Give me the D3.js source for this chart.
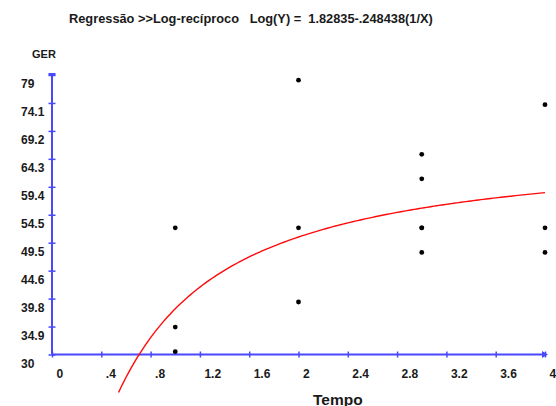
<!DOCTYPE html>
<html>
<head>
<meta charset="utf-8">
<script src="https://cdn.jsdelivr.net/npm/d3@7"></script>
<style>
  body { margin: 0; background: #fff; }
  svg text { font-family: "Liberation Sans", Arial, sans-serif; font-weight: bold; fill: #1a1a1a; }
</style>
</head>
<body>
<div id="chart"></div>
<script>
// observed points (Tempo, GER)
var tempo = [1, 1, 1, 2, 2, 2, 3, 3, 3, 3, 3, 4, 4, 4];
var ger   = [52.2, 34.8, 30.5, 78.1, 52.2, 39.2, 65.1, 60.8, 52.2, 52.2, 47.9, 73.8, 52.2, 47.9];

// tick labels as printed
var xTicks = [0, 0.4, 0.8, 1.2, 1.6, 2, 2.4, 2.8, 3.2, 3.6, 4];
var xTickLabels = ["0", ".4", ".8", "1.2", "1.6", "2", "2.4", "2.8", "3.2", "3.6", "4"];
var yTicks = [30, 34.9, 39.8, 44.7, 49.6, 54.5, 59.4, 64.3, 69.2, 74.1, 79];
var yTickLabels = ["30", "34.9", "39.8", "44.6", "49.5", "54.5", "59.4", "64.3", "69.2", "74.1", "79"];

// regression Log(Y) = a - b(1/X), from the title
var coefA = 1.82835;
var coefB = 0.248438;
var curveStart = 0.54;

var svgWidth = 556, svgHeight = 406;
var axisColor = "#4848ff";

var svg = d3.select("#chart").append("svg")
    .attr("width", svgWidth)
    .attr("height", svgHeight);

var xScale = d3.scaleLinear().domain([0, 4]).range([52, 545]);
var yScale = d3.scaleLinear().domain([30, 79]).range([354.5, 75]);

// title
svg.append("text")
    .attr("x", 69)
    .attr("y", 22.8)
    .attr("font-size", 12.8)
    .style("white-space", "pre")
    .text("Regressão >>Log-recíproco   Log(Y) =  1.82835-.248438(1/X)");

svg.append("text")
    .attr("x", 32)
    .attr("y", 58)
    .attr("font-size", 11)
    .text("GER");

svg.append("text")
    .attr("x", 313)
    .attr("y", 404.5)
    .attr("font-size", 15.5)
    .text("Tempo");

// axes
var bottomAxis = d3.axisBottom(xScale)
    .tickValues(xTicks)
    .tickFormat((d, i) => xTickLabels[i]);

var xAxis = svg.append("g")
    .attr("transform", `translate(0, ${yScale(30)})`)
    .call(bottomAxis);

xAxis.select(".domain").remove();
xAxis.append("line")
    .attr("x1", xScale(0)).attr("x2", xScale(4) + 1)
    .attr("stroke", axisColor).attr("stroke-width", 2);
xAxis.selectAll(".tick line")
    .attr("y1", -3).attr("y2", 3)
    .attr("stroke", axisColor).attr("stroke-width", 1.5);
xAxis.selectAll(".tick text")
    .attr("text-anchor", "start")
    .attr("x", 4).attr("y", 23).attr("dy", 0)
    .attr("font-size", 12)
    .attr("font-family", null);
xAxis.append("path")
    .attr("d", `M${xScale(4) - 3},-3.5L${xScale(4) + 3},0L${xScale(4) - 3},3.5Z`)
    .attr("fill", axisColor);

var leftAxis = d3.axisLeft(yScale)
    .tickValues(yTicks)
    .tickFormat((d, i) => yTickLabels[i]);

var yAxis = svg.append("g")
    .attr("transform", `translate(${xScale(0)}, 0)`)
    .call(leftAxis);

yAxis.select(".domain").remove();
yAxis.append("line")
    .attr("y1", yScale(79) - 1).attr("y2", yScale(30))
    .attr("stroke", axisColor).attr("stroke-width", 2);
yAxis.selectAll(".tick line")
    .attr("x1", -3.5).attr("x2", 3.5)
    .attr("stroke", axisColor).attr("stroke-width", 1.5);
yAxis.selectAll(".tick text")
    .attr("text-anchor", "start")
    .attr("x", 21 - xScale(0)).attr("y", 12.7).attr("dy", 0)
    .attr("font-size", 12)
    .attr("font-family", null);
yAxis.append("rect")
    .attr("x", -3.5).attr("y", yScale(79) - 2)
    .attr("width", 7).attr("height", 2.5)
    .attr("fill", axisColor);

// fitted curve
var xs = d3.range(curveStart, 4.0001, 0.02);
var curveLine = d3.line()
    .x(d => xScale(d))
    .y(d => yScale(Math.pow(10, coefA - coefB / d)));

svg.append("path")
    .datum(xs)
    .attr("d", curveLine)
    .attr("fill", "none")
    .attr("stroke", "#ff0a0a")
    .attr("stroke-width", 1.4);

// points
svg.append("g")
    .selectAll("circle")
    .data(tempo)
    .enter()
    .append("circle")
    .attr("cx", d => xScale(d))
    .attr("cy", (d, i) => yScale(ger[i]))
    .attr("r", 2.4)
    .attr("fill", "#000");
</script>
</body>
</html>
